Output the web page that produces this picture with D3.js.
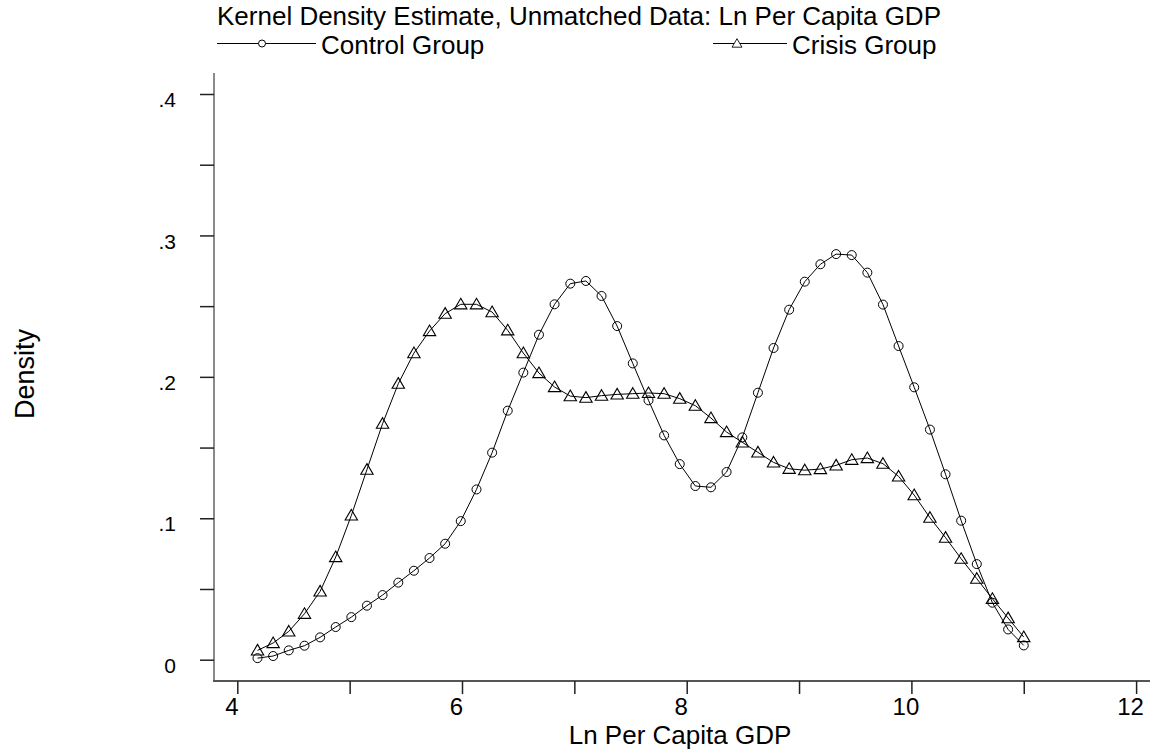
<!DOCTYPE html>
<html>
<head>
<meta charset="utf-8">
<script src="https://cdn.jsdelivr.net/npm/d3@7"></script>
<style>
  html, body { margin: 0; padding: 0; background: #fff; }
  svg { display: block; font-family: "Liberation Sans", Arial, sans-serif; }
</style>
</head>
<body>
<svg id="chart" width="1155" height="754"></svg>
<script>
// Kernel density evaluation grid (50 points) and estimated densities
const gridX = [4.180, 4.319, 4.458, 4.598, 4.737, 4.876, 5.015, 5.154, 5.293, 5.433,
               5.572, 5.711, 5.850, 5.989, 6.129, 6.268, 6.407, 6.546, 6.685, 6.824,
               6.964, 7.103, 7.242, 7.381, 7.520, 7.660, 7.799, 7.938, 8.077, 8.216,
               8.355, 8.495, 8.634, 8.773, 8.912, 9.051, 9.190, 9.330, 9.469, 9.608,
               9.747, 9.886, 10.025, 10.165, 10.304, 10.443, 10.582, 10.721, 10.861, 11.000];

const controlDensity = [0.0011, 0.0026, 0.0066, 0.0099, 0.0158, 0.0231, 0.0301, 0.0382, 0.0457, 0.0545,
                        0.0629, 0.0719, 0.0820, 0.0980, 0.1204, 0.1464, 0.1761, 0.2030, 0.2298, 0.2513,
                        0.2659, 0.2678, 0.2572, 0.2359, 0.2095, 0.1834, 0.1586, 0.1383, 0.1228, 0.1219,
                        0.1327, 0.1572, 0.1888, 0.2204, 0.2475, 0.2673, 0.2796, 0.2868, 0.2861, 0.2737,
                        0.2511, 0.2218, 0.1926, 0.1627, 0.1311, 0.0983, 0.0676, 0.0403, 0.0214, 0.0101];

const crisisDensity = [0.0066, 0.0118, 0.0200, 0.0325, 0.0483, 0.0726, 0.1020, 0.1344, 0.1669, 0.1952,
                       0.2168, 0.2324, 0.2447, 0.2513, 0.2513, 0.2458, 0.2329, 0.2168, 0.2027, 0.1928,
                       0.1864, 0.1853, 0.1867, 0.1876, 0.1881, 0.1886, 0.1881, 0.1846, 0.1796, 0.1709,
                       0.1610, 0.1537, 0.1466, 0.1395, 0.1350, 0.1340, 0.1348, 0.1374, 0.1414, 0.1426,
                       0.1386, 0.1296, 0.1164, 0.1004, 0.0863, 0.0714, 0.0573, 0.0431, 0.0294, 0.0160];

const xTicks = [4, 5, 6, 7, 8, 9, 10, 11, 12];
const xTickLabels = ["4", "", "6", "", "8", "", "10", "", "12"];
const yTicks = [0, 0.05, 0.1, 0.15, 0.2, 0.25, 0.3, 0.35, 0.4];
const yTickLabels = ["0", "", ".1", "", ".2", "", ".3", "", ".4"];

const titleText = "Kernel Density Estimate, Unmatched Data: Ln Per Capita GDP";
const seriesNames = ["Control Group", "Crisis Group"];
const xTitle = "Ln Per Capita GDP";
const yTitle = "Density";

const svg = d3.select("#chart");
const x = d3.scaleLinear().domain([4, 12]).range([237.3, 1136.1]);
const y = d3.scaleLinear().domain([0, 0.4]).range([659.7, 94]);

const axisLeftX = 214, axisBottomY = 681;

// Axis lines
svg.append("line").attr("x1", axisLeftX).attr("x2", axisLeftX)
  .attr("y1", 73).attr("y2", axisBottomY + 1)
  .attr("stroke", "#8a8a8a").attr("stroke-width", 2);
svg.append("line").attr("x1", axisLeftX - 1).attr("x2", 1150)
  .attr("y1", axisBottomY).attr("y2", axisBottomY)
  .attr("stroke", "#555").attr("stroke-width", 2);

// X axis ticks and labels
const xAxis = d3.axisBottom(x).tickValues(xTicks).tickSize(13).tickSizeOuter(0)
  .tickFormat((d, i) => xTickLabels[i]);
const gx = svg.append("g").attr("transform", `translate(0,${axisBottomY})`).call(xAxis);
gx.select(".domain").remove();
gx.selectAll(".tick line").attr("stroke", "#222").attr("stroke-width", 1.5);
gx.selectAll(".tick text").attr("font-size", 24).attr("fill", "#000")
  .attr("x", -6).attr("dy", null).attr("y", 34);

// Y axis ticks and labels
const yAxis = d3.axisLeft(y).tickValues(yTicks).tickSize(14).tickSizeOuter(0).tickPadding(24)
  .tickFormat((d, i) => yTickLabels[i]);
const gy = svg.append("g").attr("transform", `translate(${axisLeftX},0)`).call(yAxis);
gy.select(".domain").remove();
gy.selectAll(".tick line").attr("stroke", "#222").attr("stroke-width", 1.5);
gy.selectAll(".tick text").attr("font-size", 21).attr("fill", "#000")
  .attr("dy", null).attr("y", 12.7);

// Axis titles
svg.append("text").attr("x", 680).attr("y", 744).attr("text-anchor", "middle")
  .attr("font-size", 26).text(xTitle);
svg.append("text").attr("transform", "translate(34,374) rotate(-90)")
  .attr("text-anchor", "middle").attr("font-size", 27).text(yTitle);

// Title
svg.append("text").attr("x", 217).attr("y", 24.5).attr("font-size", 26).text(titleText);

// Marker shapes
function circleMarker(g) {
  g.append("circle").attr("r", 4.5).attr("fill", "none").attr("stroke", "#000").attr("stroke-width", 1);
}
function triangleMarker(g) {
  g.append("path").attr("d", "M0,-6 L6.2,4.6 L-6.2,4.6 Z")
    .attr("fill", "none").attr("stroke", "#000").attr("stroke-width", 1.1);
}

const line = d3.line().x(d => x(d[0])).y(d => y(d[1]));
const series = [
  { name: seriesNames[0], values: controlDensity, marker: circleMarker },
  { name: seriesNames[1], values: crisisDensity, marker: triangleMarker }
];

series.forEach(s => {
  const pts = gridX.map((gxv, i) => [gxv, s.values[i]]);
  svg.append("path").datum(pts).attr("d", line)
    .attr("fill", "none").attr("stroke", "#000").attr("stroke-width", 1);
  svg.append("g").selectAll("g").data(pts).join("g")
    .attr("transform", d => `translate(${x(d[0])},${y(d[1])})`)
    .each(function () { s.marker(d3.select(this)); });
});

// Legend
const legendY = 43.5;
const legendItems = [
  { x1: 217, x2: 316, mx: 262, tx: 321, marker: circleMarker, label: seriesNames[0] },
  { x1: 713, x2: 787, mx: 737, tx: 792, marker: triangleMarker, label: seriesNames[1] }
];
legendItems.forEach(l => {
  svg.append("line").attr("x1", l.x1).attr("x2", l.x2).attr("y1", legendY).attr("y2", legendY)
    .attr("stroke", "#000").attr("stroke-width", 1);
  const m = svg.append("g").attr("transform", `translate(${l.mx},${legendY})`);
  l.marker(m);
  m.select("circle").attr("r", 3.5).attr("fill", "#fff");
  m.select("path").attr("fill", "#fff").attr("transform", "scale(0.8)");
  svg.append("text").attr("x", l.tx).attr("y", 54).attr("font-size", 26).text(l.label);
});
</script>
</body>
</html>
